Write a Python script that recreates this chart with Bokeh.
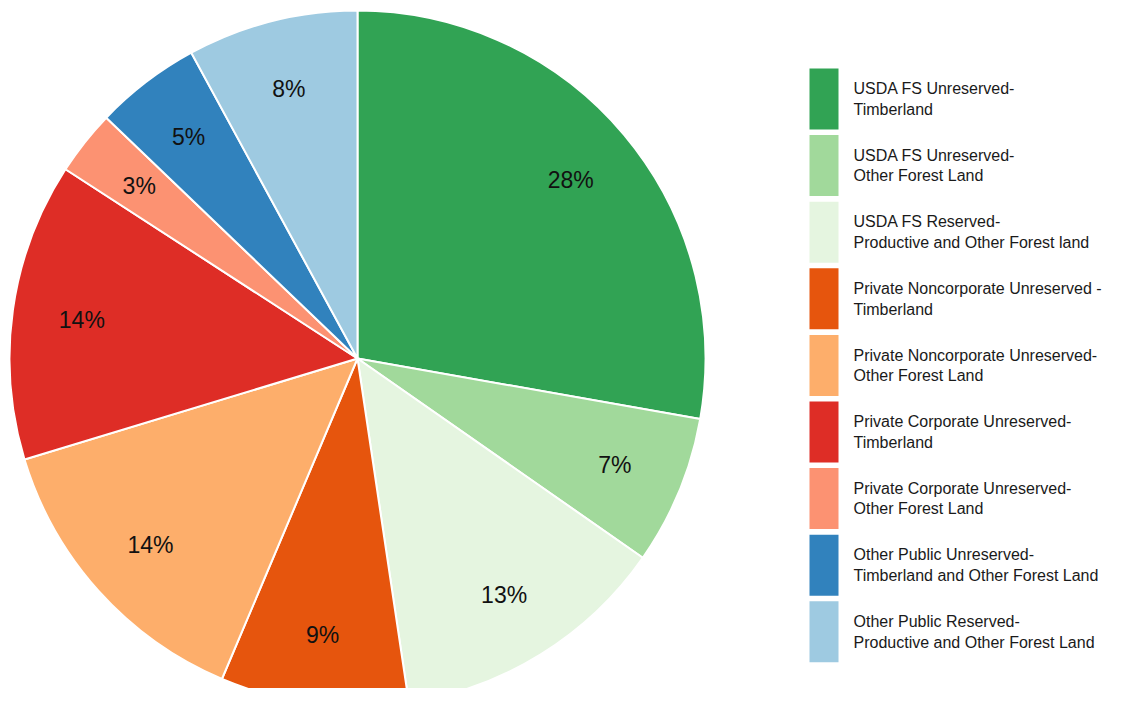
import numpy as np
from bokeh.plotting import figure
from bokeh.models import Range1d, ColumnDataSource
from bokeh.core.properties import value
from bokeh.embed import file_html
from bokeh.resources import INLINE

categories = [
    "USDA FS Unreserved-\nTimberland",
    "USDA FS Unreserved-\nOther Forest Land",
    "USDA FS Reserved-\nProductive and Other Forest land",
    "Private Noncorporate Unreserved -\nTimberland",
    "Private Noncorporate Unreserved-\nOther Forest Land",
    "Private Corporate Unreserved-\nTimberland",
    "Private Corporate Unreserved-\nOther Forest Land",
    "Other Public Unreserved-\nTimberland and Other Forest Land",
    "Other Public Reserved-\nProductive and Other Forest Land",
]
shares = [27.7, 6.9, 12.9, 8.7, 13.9, 13.8, 3.0, 4.9, 7.9]
colors = ["#31a354", "#a1d99b", "#e5f5e0", "#e6550d", "#fdae6b",
          "#de2d26", "#fc9272", "#3182bd", "#9ecae1"]

W, H = 1114, 688
p = figure(width=W, height=H, output_backend="svg", toolbar_location=None,
           x_range=Range1d(0, W), y_range=Range1d(0, H),
           min_border=0, outline_line_color=None)
p.axis.visible = False
p.grid.visible = False
p.background_fill_color = "white"
p.border_fill_color = "white"

vals = np.array(shares, dtype=float)
frac = vals / vals.sum()
cum = np.concatenate([[0], np.cumsum(frac)])
start = np.pi / 2 - cum[:-1] * 2 * np.pi
end = np.pi / 2 - cum[1:] * 2 * np.pi
mid = (start + end) / 2

cx, cy, R = 357, H - 358, 348
src = ColumnDataSource(dict(start=start, end=end, color=colors))
p.wedge(x=cx, y=cy, radius=R, start_angle="start", end_angle="end",
        direction="clock", fill_color="color", line_color="white",
        line_width=2, source=src)

labels = [f"{round(f * 100)}%" for f in frac]
lr = 0.8 * R
p.text(x=cx + lr * np.cos(mid), y=cy + lr * np.sin(mid), text=labels,
       text_font=value("Liberation Sans"), text_font_size="23px",
       text_color="#111111", text_align="center", text_baseline="middle")

# legend
n = len(categories)
pitch = 66.6
box_top0 = 68
tops = np.array([box_top0 + i * pitch for i in range(n)])
box_h = 61
lx0, lx1 = 809, 838
p.quad(left=lx0, right=lx1, top=H - tops, bottom=H - (tops + box_h),
       fill_color=colors, line_color=None)
p.text(x=853, y=H - (tops + box_h / 2), text=categories,
       text_font=value("Liberation Sans"), text_font_size="16px",
       text_color="#1a1a1a", text_align="left", text_baseline="middle",
       text_line_height=1.22)

open("out.html", "w").write(file_html(p, INLINE))
